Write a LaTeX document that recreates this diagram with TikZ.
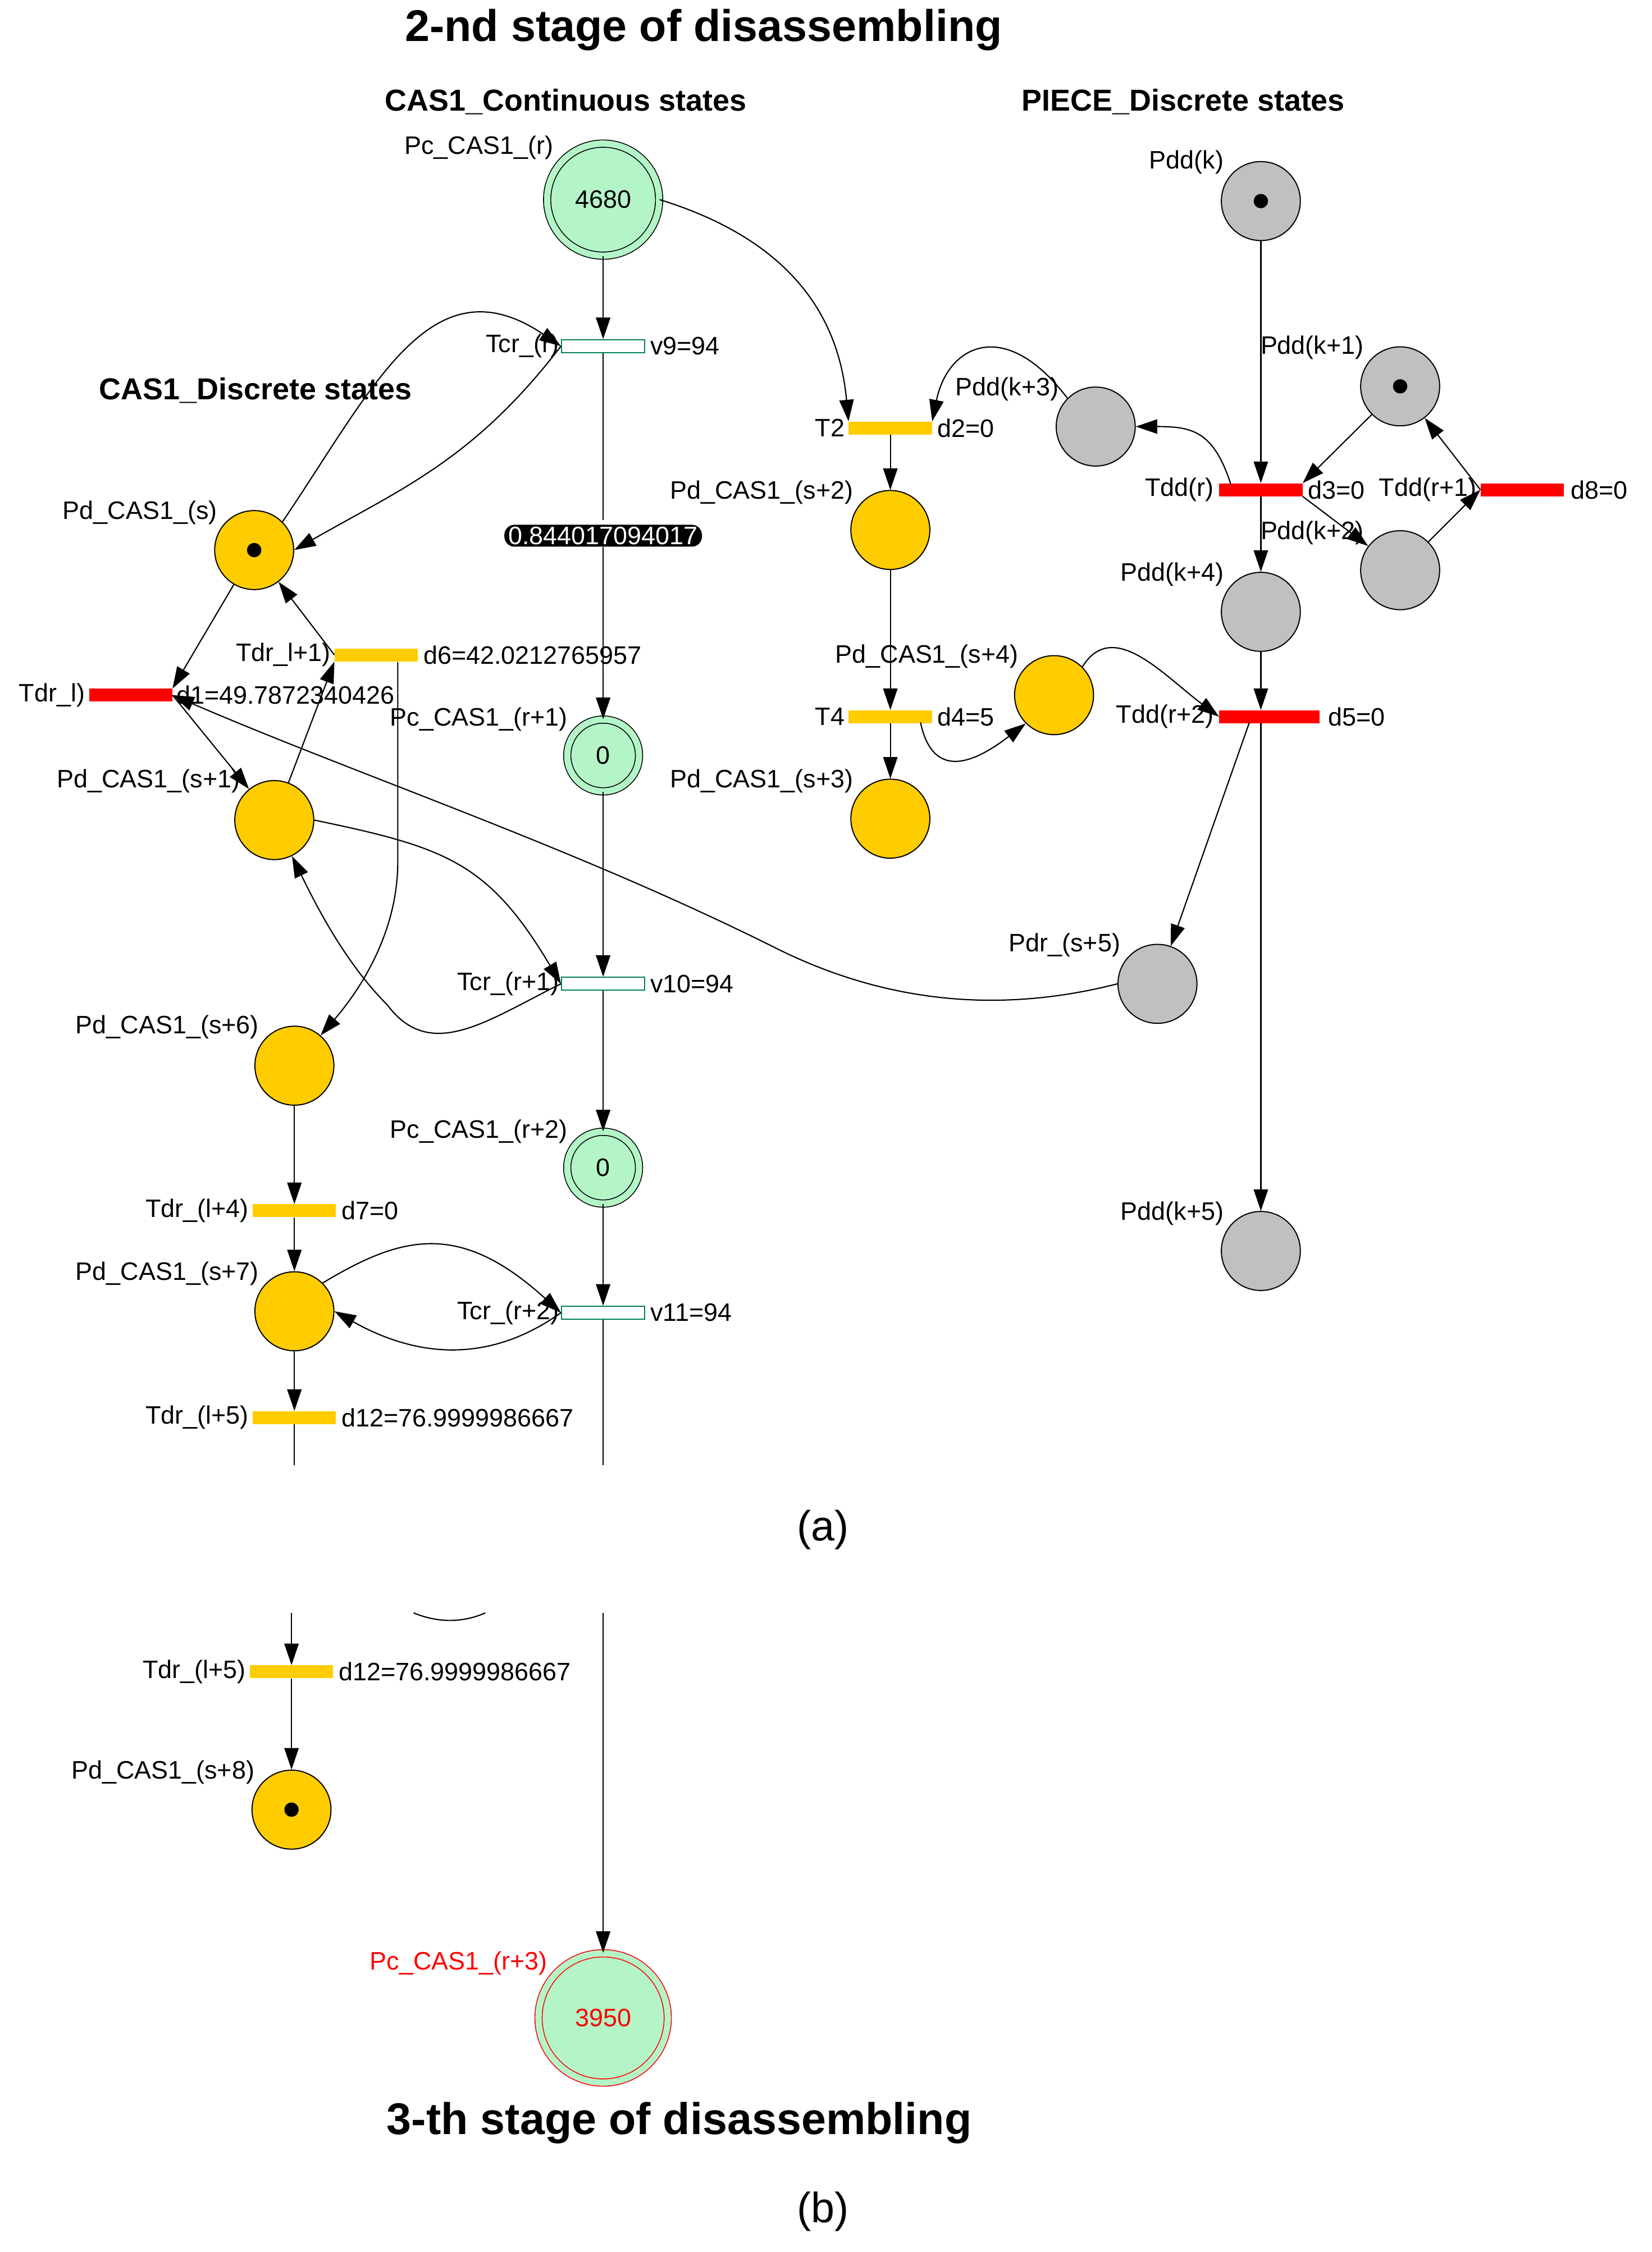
\documentclass[tikz,border=0pt]{standalone}
\usepackage{fontspec}
\setmainfont{Liberation Sans}
\usetikzlibrary{arrows.meta}
\definecolor{mint}{HTML}{B4F5C8}
\definecolor{gold}{HTML}{FFCC00}
\definecolor{pgray}{HTML}{C0C0C0}
\definecolor{tgreen}{HTML}{008050}
\begin{document}
\begin{tikzpicture}[x=0.05cm,y=-0.05cm,
  lab/.style={font=\fontsize{25}{30}\selectfont, inner sep=1pt},
  ttl/.style={font=\fontsize{44}{50}\selectfont\bfseries},
  sub/.style={font=\fontsize{30}{36}\selectfont\bfseries},
  capt/.style={font=\fontsize{42}{48}\selectfont\rmfamily},
  pl/.style={circle, draw=black, line width=1.1pt, minimum size=2.75cm, inner sep=0},
  yp/.style={pl, fill=gold},
  gp/.style={pl, fill=pgray},
  cp/.style={circle, draw=black, line width=0.9pt, fill=mint, double=mint, double distance=0.22cm, inner sep=0, font=\fontsize{25}{30}\selectfont},
  tr/.style={rectangle, minimum width=2.9cm, minimum height=0.45cm, inner sep=0},
  ty/.style={tr, fill=gold},
  trd/.style={tr, fill=red},
  tc/.style={tr, draw=tgreen, line width=1.1pt, fill=white},
  tok/.style={circle, fill=black, inner sep=0, minimum size=0.5cm},
  arc/.style={line width=1.2pt, -{Triangle[length=0.75cm,width=0.5cm]}},
  ln/.style={line width=1.2pt}]
\useasboundingbox (0,0) rectangle (1150,1568);
% titles
\node[ttl] (t1) at (490,21) {2-nd stage of disassembling};
\node[sub] (t2) at (394,71) {CAS1\_Continuous states};
\node[sub] (t3) at (824,71) {PIECE\_Discrete states};
\node[sub] (t4) at (178,272) {CAS1\_Discrete states};
% continuous places
\node[cp, minimum size=3.9cm] (pcr) at (420,139) {4680};
\node[cp, minimum size=2.5cm] (pcr1) at (420,526) {0};
\node[cp, minimum size=2.5cm] (pcr2) at (420,813) {0};
\node[cp, draw=red, text=red, minimum size=4.5cm] (pcr3) at (420,1405) {3950};
\node[lab, anchor=south east] (lpcr) at (386,112) {Pc\_CAS1\_(r)};
\node[lab, anchor=south east] (lpcr1) at (396,510) {Pc\_CAS1\_(r+1)};
\node[lab, anchor=south east] (lpcr2) at (396,797) {Pc\_CAS1\_(r+2)};
\node[lab, text=red, anchor=south east] (lpcr3) at (382,1376) {Pc\_CAS1\_(r+3)};
% continuous transitions
\node[tc] (tcr) at (420,241) {};
\node[tc] (tcr1) at (420,685) {};
\node[tc] (tcr2) at (420,914) {};
\node[lab, anchor=east] at (390,241) {Tcr\_(r)};
\node[lab, anchor=west] at (452,241) {v9=94};
\node[lab, anchor=east] at (390,685) {Tcr\_(r+1)};
\node[lab, anchor=west] at (452,685) {v10=94};
\node[lab, anchor=east] at (390,914) {Tcr\_(r+2)};
\node[lab, anchor=west] at (452,914) {v11=94};
% discrete CAS1 places
\node[yp] (ps) at (177,383) {}; \node[tok] at (ps) {};
\node[yp] (ps1) at (191,571) {};
\node[yp] (ps6) at (205,742) {};
\node[yp] (ps7) at (205,913) {};
\node[yp] (ps8) at (203,1260) {}; \node[tok] at (ps8) {};
\node[yp] (ps2) at (620,369) {};
\node[yp] (ps3) at (620,570) {};
\node[yp] (ps4) at (734,484) {};
\node[lab, anchor=south east] at (152,366) {Pd\_CAS1\_(s)};
\node[lab, anchor=south east] at (168,553) {Pd\_CAS1\_(s+1)};
\node[lab, anchor=south east] at (181,724) {Pd\_CAS1\_(s+6)};
\node[lab, anchor=south east] at (181,896) {Pd\_CAS1\_(s+7)};
\node[lab, anchor=south east] at (178,1243) {Pd\_CAS1\_(s+8)};
\node[lab, anchor=south east] at (595,352) {Pd\_CAS1\_(s+2)};
\node[lab, anchor=south east] at (595,553) {Pd\_CAS1\_(s+3)};
\node[lab, anchor=south east] at (710,466) {Pd\_CAS1\_(s+4)};
% discrete CAS1 transitions
\node[trd] (tdl) at (91,484) {};
\node[ty] (tdl1) at (262,456) {};
\node[ty] (tdl4) at (205,843) {};
\node[ty] (tdl5) at (205,987) {};
\node[ty] (tdl5b) at (203,1164) {};
\node[ty] (t2n) at (620,298) {};
\node[ty] (t4n) at (620,499) {};
\node[lab, anchor=east] at (60,484) {Tdr\_l)};
\node[lab, anchor=west] at (122,484) {d1=49.7872340426};
\node[lab, anchor=east] at (231,456) {Tdr\_l+1)};
\node[lab, anchor=west] at (294,456) {d6=42.0212765957};
\node[lab, anchor=east] at (174,843) {Tdr\_(l+4)};
\node[lab, anchor=west] at (237,843) {d7=0};
\node[lab, anchor=east] at (174,987) {Tdr\_(l+5)};
\node[lab, anchor=west] at (237,987) {d12=76.9999986667};
\node[lab, anchor=east] at (172,1164) {Tdr\_(l+5)};
\node[lab, anchor=west] at (235,1164) {d12=76.9999986667};
\node[lab, anchor=east] at (589,298) {T2};
\node[lab, anchor=west] at (652,298) {d2=0};
\node[lab, anchor=east] at (589,499) {T4};
\node[lab, anchor=west] at (652,499) {d4=5};
% piece places
\node[gp] (pk) at (878,140) {}; \node[tok] at (pk) {};
\node[gp] (pk1) at (975,269) {}; \node[tok] at (pk1) {};
\node[gp] (pk3) at (763,297) {};
\node[gp] (pk2) at (975,397) {};
\node[gp] (pk4) at (878,426) {};
\node[gp] (pr5) at (806,685) {};
\node[gp] (pk5) at (878,871) {};
\node[lab, anchor=south east] at (853,122) {Pdd(k)};
\node[lab, anchor=south west] at (877,251) {Pdd(k+1)};
\node[lab, anchor=south east] at (738,280) {Pdd(k+3)};
\node[lab, anchor=south west] at (877,380) {Pdd(k+2)};
\node[lab, anchor=south east] at (853,409) {Pdd(k+4)};
\node[lab, anchor=south east] at (781,667) {Pdr\_(s+5)};
\node[lab, anchor=south east] at (853,854) {Pdd(k+5)};
% piece transitions
\node[trd] (tddr) at (878,341) {};
\node[trd] (tddr1) at (1060,341) {};
\node[trd, minimum width=3.5cm] (tddr2) at (884,499) {};
\node[lab, anchor=east] at (846,341) {Tdd(r)};
\node[lab, anchor=west] at (910,341) {d3=0};
\node[lab, anchor=east] at (1029,341) {Tdd(r+1)};
\node[lab, anchor=west] at (1093,341) {d8=0};
\node[lab, anchor=east] at (846,499) {Tdd(r+2)};
\node[lab, anchor=west] at (924,499) {d5=0};
% continuous chain
\draw[arc] (pcr) -- (tcr);
\draw[ln] (tcr) -- (420,362);
\node[fill=black, text=white, rounded corners=0.35cm, inner xsep=4pt, inner ysep=2pt, font=\fontsize{25}{30}\selectfont] (flow) at (420,373) {0.844017094017};
\draw[arc] (flow) -- (pcr1);
\draw[arc] (pcr1) -- (tcr1);
\draw[arc] (tcr1) -- (pcr2);
\draw[arc] (pcr2) -- (tcr2);
\coordinate (endc) at (420,1020);
\draw[ln] (tcr2) -- (endc);
\coordinate (startc) at (420,1123);
\draw[arc] (startc) -- (pcr3);
\draw[arc] (pcr.east) .. controls (560,170) and (585,230) .. (t2n.north west);
% CAS1 discrete arcs
\draw[arc] (ps.north east) .. controls (260,270) and (300,180) .. (tcr.west);
\draw[arc] (tcr.west) .. controls (330,320) and (280,340) .. (ps.east);
\draw[arc] (ps) -- (tdl.north east);
\draw[arc] (tdl1.west) -- (ps);
\draw[arc] (tdl.east) -- (ps1);
\draw[arc] (ps1) -- (tdl1.south west);
\draw[arc] (pr5.west) .. controls (700,705) and (620,700) .. (540,660) .. controls (400,590) and (250,540) .. (tdl.east);
\draw[arc] (277,461) -- (277,600) .. controls (277,650) and (250,690) .. (ps6);
\draw[arc] (ps1.east) .. controls (310,590) and (340,600) .. (tcr1.west);
\draw[arc] (tcr1.west) .. controls (340,710) and (300,740) .. (270,700) .. controls (240,670) and (220,630) .. (ps1);
\draw[arc] (ps6) -- (tdl4);
\draw[arc] (tdl4) -- (ps7);
\draw[arc] (ps7) -- (tdl5);
\coordinate (endd) at (205,1020);
\draw[ln] (tdl5) -- (endd);
\draw[arc] (ps7.north east) .. controls (280,860) and (320,850) .. (tcr2.west);
\draw[arc] (tcr2.west) .. controls (340,950) and (290,945) .. (ps7.east);
\coordinate (startd) at (203,1123);
\draw[arc] (startd) -- (tdl5b);
\draw[arc] (tdl5b) -- (ps8);
\coordinate (aa) at (288,1123); \coordinate (ab) at (338,1123);
\draw[ln] (aa) .. controls (305,1130) and (322,1130) .. (ab);
\draw[arc] (t2n) -- (ps2);
\draw[arc] (ps2) -- (t4n);
\draw[arc] (t4n) -- (ps3);
\draw[arc] (641,503) .. controls (650,545) and (680,530) .. (ps4.south west);
\draw[arc] (ps4.north east) .. controls (775,430) and (810,470) .. (tddr2.west);
% piece arcs
\draw[arc] (pk3.north west) .. controls (700,220) and (660,240) .. (t2n.north east);
\draw[arc] (857,337) .. controls (845,300) and (830,297) .. (pk3.east);
\draw[arc] (pk) -- (tddr);
\draw[arc] (pk1) -- (tddr.north east);
\draw[arc] (tddr.south east) -- (pk2);
\draw[arc] (pk2) -- (tddr1.west);
\draw[arc] (tddr1.west) -- (pk1);
\draw[arc] (tddr) -- (pk4);
\draw[arc] (pk4) -- (tddr2.north -| pk4);
\draw[arc] (870,503) -- (pr5);
\draw[arc] (tddr2.south -| pk4) -- (pk5);
% captions
\node[capt] (ca) at (573,1065) {(a)};
\node[ttl] (t5) at (473,1478) {3-th stage of disassembling};
\node[capt] (cb) at (573,1540) {(b)};
\end{tikzpicture}
\end{document}
